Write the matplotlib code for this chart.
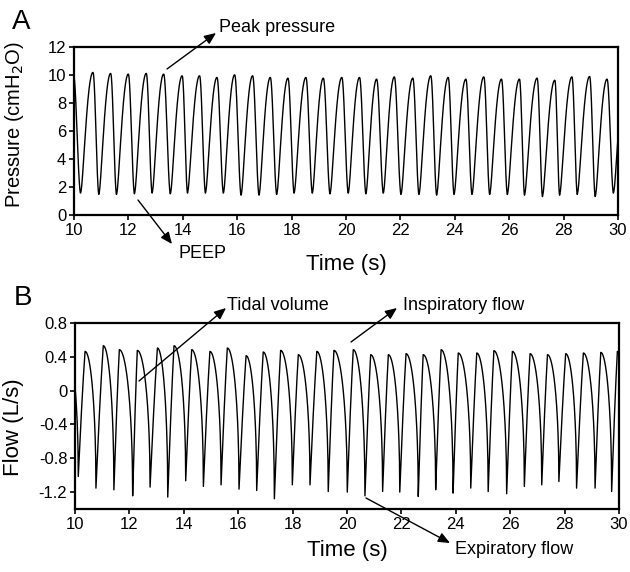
import numpy as np
import matplotlib
matplotlib.use("Agg")
import matplotlib.pyplot as plt

plt.rcParams['font.family'] = ['Liberation Sans', 'DejaVu Sans']

# ---- pressure (cmH2O): peaks and troughs ----
p_peak_t = [9.98, 10.70, 11.35, 12.00, 12.66, 13.30, 13.98, 14.62, 15.26, 15.91, 16.57,
            17.22, 17.87, 18.53, 19.17, 19.85, 20.50, 21.13, 21.78, 22.46, 23.12,
            23.76, 24.41, 25.07, 25.72, 26.38, 27.03, 27.68, 28.31, 28.96, 29.60, 30.28]
p_peak_v = [10.10, 10.22, 10.15, 10.10, 10.15, 10.10, 9.98, 9.98, 9.86, 10.05, 9.98,
            9.86, 9.81, 9.86, 9.81, 9.86, 9.86, 9.74, 9.90, 9.81, 9.98,
            9.86, 9.74, 9.90, 9.74, 9.74, 9.81, 9.66, 9.90, 9.93, 9.74, 9.90]
p_trough_t = [10.25, 10.92, 11.57, 12.23, 12.88, 13.55, 14.18, 14.84, 15.50, 16.15, 16.81,
              17.46, 18.10, 18.77, 19.42, 20.09, 20.74, 21.38, 22.03, 22.69, 23.34,
              23.98, 24.64, 25.29, 25.94, 26.57, 27.23, 27.86, 28.51, 29.17, 29.84]
p_trough_v = [1.45, 1.35, 1.35, 1.40, 1.45, 1.40, 1.45, 1.45, 1.45, 1.30, 1.30,
              1.35, 1.45, 1.45, 1.40, 1.45, 1.40, 1.45, 1.35, 1.35, 1.30,
              1.35, 1.35, 1.35, 1.35, 1.30, 1.20, 1.30, 1.35, 1.20, 1.45]

# ---- flow (L/s): peaks and troughs ----
f_peak_t = [9.72, 10.37, 11.04, 11.63, 12.29, 13.03, 13.64, 14.29, 14.96, 15.60, 16.29,
            16.92, 17.56, 18.21, 18.89, 19.52, 20.23, 20.87, 21.52, 22.17, 22.80,
            23.46, 24.09, 24.77, 25.40, 26.08, 26.73, 27.37, 28.04, 28.69, 29.33, 29.94]
f_peak_v = [0.47, 0.464, 0.531, 0.484, 0.476, 0.504, 0.531, 0.484, 0.464, 0.504, 0.413,
            0.457, 0.476, 0.425, 0.464, 0.476, 0.484, 0.425, 0.425, 0.437, 0.425,
            0.484, 0.445, 0.445, 0.472, 0.464, 0.437, 0.425, 0.437, 0.445, 0.452, 0.464]
f_trough_t = [10.12, 10.77, 11.43, 12.12, 12.76, 13.41, 14.07, 14.72, 15.37, 16.03, 16.68,
              17.33, 17.99, 18.64, 19.31, 20.01, 20.66, 21.31, 21.94, 22.62, 23.26,
              23.90, 24.55, 25.19, 25.87, 26.52, 27.16, 27.79, 28.44, 29.12, 29.73, 30.36]
f_trough_v = [-1.015, -1.153, -1.173, -1.244, -1.141, -1.259, -1.066, -1.133, -1.114, -1.165, -1.181,
              -1.279, -1.114, -1.114, -1.193, -1.200, -1.244, -1.193, -1.200, -1.252, -1.173,
              -1.212, -1.153, -1.193, -1.220, -1.134, -1.114, -1.075, -1.153, -1.153, -1.193, -1.15]


def trace(peak_t, peak_v, trough_t, trough_v, rise, fall, n=40):
    # join the extremes in time order with the given segment shapes
    pts = sorted([(t, v, 1) for t, v in zip(peak_t, peak_v)] +
                 [(t, v, 0) for t, v in zip(trough_t, trough_v)])
    ts, vs = [], []
    for (t0, v0, k0), (t1, v1, k1) in zip(pts[:-1], pts[1:]):
        u = np.linspace(0, 1, n, endpoint=False)
        s = rise(u) if k1 == 1 else fall(u)
        ts.append(t0 + (t1 - t0) * u)
        vs.append(v0 + (v1 - v0) * s)
    ts.append([pts[-1][0]])
    vs.append([pts[-1][1]])
    return np.concatenate(ts), np.concatenate(vs)


def smooth(v, k=5):
    w = np.ones(k) / k
    return np.convolve(np.pad(v, k, mode='edge'), w, mode='same')[k:-k]


p_t, p_v = trace(p_peak_t, p_peak_v, p_trough_t, p_trough_v,
                 rise=lambda u: (1 - np.cos(np.pi * u ** 0.7)) / 2,
                 fall=lambda u: (1 - np.cos(np.pi * u)) / 2)
p_v = smooth(p_v, 7)
f_t, f_v = trace(f_peak_t, f_peak_v, f_trough_t, f_trough_v,
                 rise=lambda u: 0.75 * u + 0.25 * np.sin(np.pi / 2 * u),
                 fall=lambda u: 1 - np.sqrt(1 - u ** 2))

W, H = 630, 572
fig = plt.figure(figsize=(W / 100, H / 100), dpi=100)


def px(x, y):
    return (x / W, 1 - y / H)


axA = fig.add_axes([74 / W, 1 - 215 / H, 544 / W, 168 / H])
axB = fig.add_axes([75 / W, 1 - 509 / H, 544 / W, 186 / H])

axA.plot(p_t, p_v, color='black', lw=1.0)
axA.set_xlim(10, 30)
axA.set_ylim(0, 12)
axA.set_xticks(np.arange(10, 31, 2))
axA.set_yticks(np.arange(0, 13, 2))
axA.set_xlabel('Time (s)', fontsize=16, labelpad=12)
axA.set_ylabel('Pressure (cmH$_2$O)', fontsize=14.5)
axA.yaxis.set_label_coords(-0.088, 0.54)

axB.plot(f_t, f_v, color='black', lw=1.0)
axB.set_xlim(10, 30)
axB.set_ylim(-1.4, 0.8)
axB.set_xticks(np.arange(10, 31, 2))
axB.set_yticks([-1.2, -0.8, -0.4, 0, 0.4, 0.8])
axB.set_yticklabels(['-1.2', '-0.8', '-0.4', '0', '0.4', '0.8'])
axB.set_xlabel('Time (s)', fontsize=16, labelpad=6)
axB.set_ylabel('Flow (L/s)', fontsize=16)
axB.yaxis.set_label_coords(-0.094, 0.44)

for ax in (axA, axB):
    for sp in ax.spines.values():
        sp.set_linewidth(1.6)
    ax.tick_params(direction='out', length=3.5, width=1.2, labelsize=12, pad=2)

fig.text(*px(21, 22), 'A', fontsize=20, ha='center', va='center')
fig.text(*px(23, 298), 'B', fontsize=20, ha='center', va='center')

notes = [
    ('Peak pressure', (219, 28), (167, 69), (216, 33)),
    ('PEEP', (178, 253), (138, 200), (172, 244)),
    ('Tidal volume', (227, 305), (139, 381), (226, 308)),
    ('Inspiratory flow', (403, 305), (351, 342), (397, 308)),
    ('Expiratory flow', (455, 550), (366, 498), (450, 543)),
]
for label, pos, tail, head in notes:
    fig.text(*px(*pos), label, fontsize=13, ha='left', va='center')
    fig.add_artist(matplotlib.patches.FancyArrowPatch(
        px(*tail), px(*head), transform=fig.transFigure,
        arrowstyle='-|>,head_length=7,head_width=3', lw=1.0, color='black',
        shrinkA=0, shrinkB=0))

fig.savefig('out.png', dpi=100)
